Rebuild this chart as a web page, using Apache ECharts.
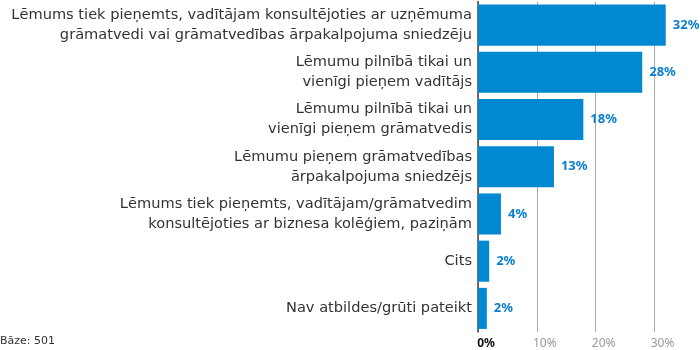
<!DOCTYPE html>
<html><head><meta charset="utf-8">
<script src="https://cdn.jsdelivr.net/npm/echarts@6/dist/echarts.min.js"></script>
<style>html,body{margin:0;padding:0;background:#fff}#c{width:700px;height:350px}</style>
</head><body><div id="c"></div>
<script>
const categories = [
  "Lēmums tiek pieņemts, vadītājam konsultējoties ar uzņēmuma\ngrāmatvedi vai grāmatvedības ārpakalpojuma sniedzēju",
  "Lēmumu pilnībā tikai un\nvienīgi pieņem vadītājs",
  "Lēmumu pilnībā tikai un\nvienīgi pieņem grāmatvedis",
  "Lēmumu pieņem grāmatvedības\nārpakalpojuma sniedzējs",
  "Lēmums tiek pieņemts, vadītājam/grāmatvedim\nkonsultējoties ar biznesa kolēģiem, paziņām",
  "Cits",
  "Nav atbildes/grūti pateikt"
];
const values = [31.9, 27.9, 17.9, 12.9, 3.9, 1.9, 1.5];
const valueLabels = ["32%", "28%", "18%", "13%", "4%", "2%", "2%"];
const tickLabels = {0: "0%", 10: "10%", 20: "20%", 30: "30%"};
const baseNote = "Bāze: 501";

const chart = echarts.init(document.getElementById('c'));
chart.setOption({
  animation: false,
  textStyle: {fontFamily: "DejaVu Sans"},
  grid: {left: 478, right: 16, top: 1.5, bottom: 18, containLabel: false},
  graphic: [{type: 'text', left: 0, top: 336, style: {text: baseNote, fill: '#333', font: '11px "DejaVu Sans"'}}],
  xAxis: {
    type: 'value', min: 0, max: 35, interval: 10,
    axisLine: {show: false}, axisTick: {show: false},
    splitLine: {show: true, showMaxLine: false, lineStyle: {color: '#aaaaaa', width: 1}},
    axisLabel: {
      margin: 6, padding: [0, 0, 0, 16], showMaxLabel: false,
      formatter: v => v === 0 ? '{z|0%}' : (tickLabels[v] || ''),
      color: '#999', fontSize: 12, fontFamily: 'Noto Sans',
      rich: {z: {color: '#111', fontWeight: 'bold', fontSize: 12, fontFamily: 'Noto Sans'}}
    }
  },
  yAxis: {
    type: 'category', inverse: true, data: categories,
    axisLine: {show: true, lineStyle: {color: '#444', width: 1.5}},
    axisTick: {show: false},
    axisLabel: {color: '#333', fontSize: 14.6, lineHeight: 20, margin: 6, align: 'right'}
  },
  series: [{
    type: 'bar', data: values, barCategoryGap: '13%',
    itemStyle: {color: '#0088d1'},
    label: {show: true, position: 'right', distance: 7, color: '#0a7fd0', fontWeight: 'bold', fontSize: 13, fontFamily: 'Noto Sans',
      formatter: p => valueLabels[p.dataIndex]}
  }]
});
</script></body></html>
